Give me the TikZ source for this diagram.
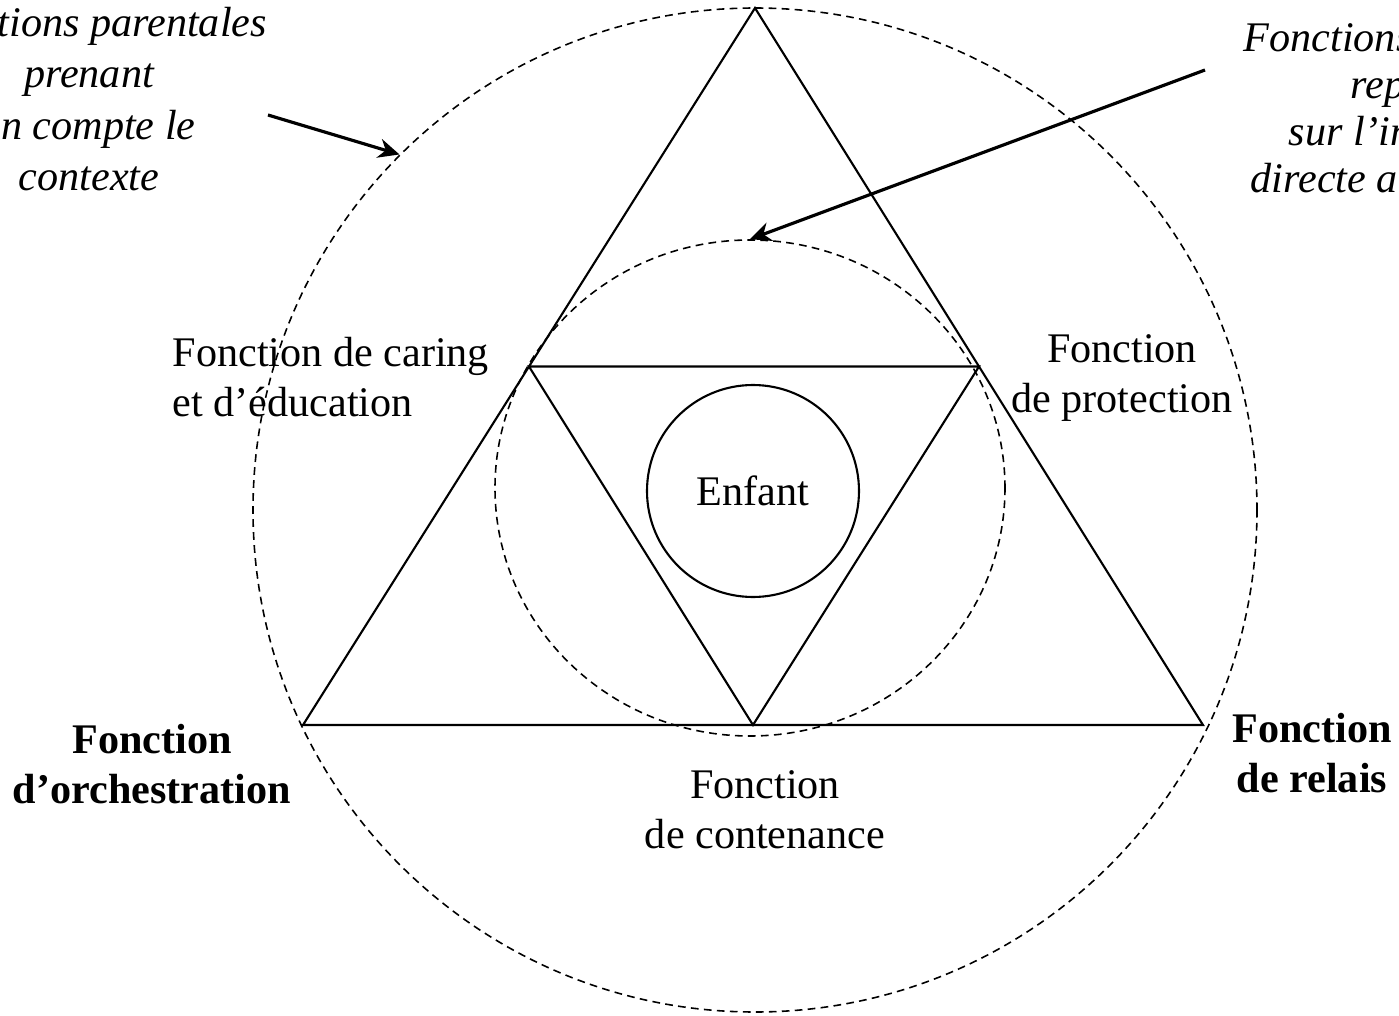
\documentclass[tikz,border=0pt]{standalone}
\usepackage{fontspec}
\setmainfont{Liberation Serif}
\usetikzlibrary{arrows.meta, calc, positioning, shapes.geometric}

\begin{document}
\begin{tikzpicture}[
	every node/.style={inner sep=0pt, font=\fontsize{12}{14.2}\selectfont},
	dashcircle/.style={draw, dash pattern=on 2.2pt off 1.5pt, line width=0.45pt},
	side/.style={line width=0.6pt, line join=miter},
	pointer/.style={-{Stealth[length=6pt, width=5.5pt]}, line width=0.9pt},
	fonction/.style={align=center},
	boldfonction/.style={align=center, font=\fontsize{12}{14.2}\selectfont\bfseries},
	note/.style={font=\fontsize{12}{14.6}\selectfont\itshape}]

	\useasboundingbox (0,0) rectangle (13.99,-10.16);
	\clip (0,0) rectangle (13.99,-10.16);

	% cercles
	\node[dashcircle, circle, minimum size=10.04cm] (outer) at (7.55,-5.10) {};
	\node[dashcircle, ellipse, minimum width=5.10cm, minimum height=4.96cm] (inner) at (7.50,-4.88) {};
	\node[circle, draw, line width=0.6pt, minimum size=2.12cm] (enfant) at (7.53,-4.91) {Enfant};

	% triangles
	\coordinate (A) at (7.55,-0.08);
	\coordinate (B) at (3.03,-7.25);
	\coordinate (C) at (12.03,-7.25);
	\coordinate (D) at ($(A)!0.5!(B)$);
	\coordinate (E) at ($(A)!0.5!(C)$);
	\coordinate (F) at ($(B)!0.5!(C)$);
	\draw[side] (A) -- (B) -- (C) -- cycle;
	\draw[side] (D) -- (E) -- (F) -- cycle;

	% fonctions
	\node[fonction, align=left, anchor=west] (caring) at (1.72,-3.77) {Fonction de caring\\et d’éducation};
	\node[fonction] (protection) at (11.22,-3.78) {Fonction\\de protection};
	\node[fonction] (contenance) at (7.65,-8.10) {Fonction\\de contenance};
	\node[boldfonction] (orchestration) at (1.52,-7.64) {Fonction\\d’orchestration};
	\node[boldfonction] (relais) at (13.12,-7.53) {Fonction\\de relais};

	% notes
	\node[note, align=center] (contexte) at (0.89,-0.99) {Fonctions parentales\\prenant\\en compte le\\contexte};
	\node[note, anchor=base west] (direct1) at (12.43,-0.52) {Fonctions};
	\node[note, anchor=base west] (direct2) at (13.50,-0.99) {rep};
	\node[note, anchor=base west] (direct3) at (12.88,-1.46) {sur l’in};
	\node[note, anchor=base west] (direct4) at (12.50,-1.93) {directe a};

	\coordinate (contextetail) at (2.68,-1.15);
	\coordinate (directtail) at (12.05,-0.70);
	\draw[pointer] (contextetail) -- (outer.135);
	\draw[pointer] (directtail) -- (inner.north);
\end{tikzpicture}
\end{document}
